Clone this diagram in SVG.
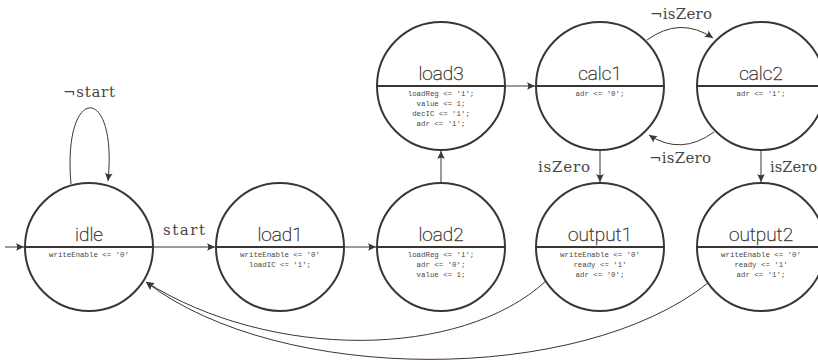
<svg xmlns="http://www.w3.org/2000/svg" width="818" height="360" viewBox="0 0 818 360">
<style>
.st{fill:#fff;stroke:#3b3634;stroke-width:2}
.div{stroke:#3b3634;stroke-width:2}
.nm{font-family:Roboto,"Open Sans","DejaVu Sans",sans-serif;font-weight:100;font-size:19px;fill:#4a4644;stroke:#4a4644;stroke-width:0.45px;text-anchor:middle}
.ac{font-family:"Liberation Mono","DejaVu Sans Mono",monospace;font-size:7.4px;fill:#4a4544;text-anchor:middle}
.cn{fill:none;stroke:#3b3634;stroke-width:1}
.lb{font-family:"DejaVu Serif","Liberation Serif",serif;font-size:15px;fill:#4a4544}
</style>
<defs>
<marker id="ah" viewBox="-9 -5 10 10" refX="0" refY="0" markerWidth="10" markerHeight="10" markerUnits="userSpaceOnUse" orient="auto">
<path d="M0,0 L-8,-3.8 Q-5.5,0 -8,3.8 Z" fill="#3b3634"/>
</marker>
</defs>
<g id="connectors">
<line class="cn" x1="5" y1="247" x2="24" y2="247" marker-end="url(#ah)"/>
<path class="cn" d="M71,184 C62,83 118,83 108,181" marker-end="url(#ah)"/>
<text class="lb" x="63" y="97" textLength="52" lengthAdjust="spacing">¬start</text>
<line class="cn" x1="153" y1="247" x2="215" y2="247" marker-end="url(#ah)"/>
<text class="lb" x="163" y="235" textLength="42" lengthAdjust="spacing">start</text>
<line class="cn" x1="344" y1="247" x2="376" y2="247" marker-end="url(#ah)"/>
<line class="cn" x1="441" y1="183" x2="441" y2="151" marker-end="url(#ah)"/>
<line class="cn" x1="505" y1="86" x2="535" y2="86" marker-end="url(#ah)"/>
<path class="cn" d="M647,40 Q680,16 713,38" marker-end="url(#ah)"/>
<text class="lb" x="650" y="19" textLength="62" lengthAdjust="spacing">¬isZero</text>
<path class="cn" d="M714,132 Q681,156 649,135" marker-end="url(#ah)"/>
<text class="lb" x="649" y="163" textLength="62" lengthAdjust="spacing">¬isZero</text>
<line class="cn" x1="600" y1="150" x2="600" y2="182" marker-end="url(#ah)"/>
<text class="lb" x="538" y="172" textLength="52" lengthAdjust="spacing">isZero</text>
<line class="cn" x1="761" y1="150" x2="761" y2="182" marker-end="url(#ah)"/>
<text class="lb" x="770" y="172" textLength="47" lengthAdjust="spacingAndGlyphs">isZero</text>
<path class="cn" d="M546,281 C460,360 270,360 146,282" marker-end="url(#ah)"/>
<path class="cn" d="M708,283 C580,385 280,385 146,282" marker-end="url(#ah)"/>
</g>
<g id="idle">
<circle class="st" cx="89" cy="247" r="64"/>
<line class="div" x1="25" y1="247" x2="153" y2="247"/>
<text class="nm" x="89" y="241">idle</text>
<text class="ac" x="89" y="257">writeEnable &lt;= '0'</text>
</g>
<g id="load1">
<circle class="st" cx="280" cy="247" r="64"/>
<line class="div" x1="216" y1="247" x2="344" y2="247"/>
<text class="nm" x="280" y="241">load1</text>
<text class="ac" x="280" y="257">writeEnable &lt;= '0'</text>
<text class="ac" x="280" y="267">loadIC &lt;= '1';</text>
</g>
<g id="load2">
<circle class="st" cx="441" cy="247" r="64"/>
<line class="div" x1="377" y1="247" x2="505" y2="247"/>
<text class="nm" x="441" y="241">load2</text>
<text class="ac" x="441" y="257">loadReg &lt;= '1';</text>
<text class="ac" x="441" y="267">adr &lt;= '0';</text>
<text class="ac" x="441" y="277">value &lt;= 1;</text>
</g>
<g id="load3">
<circle class="st" cx="441" cy="86" r="64"/>
<line class="div" x1="377" y1="86" x2="505" y2="86"/>
<text class="nm" x="441" y="80">load3</text>
<text class="ac" x="441" y="96">loadReg &lt;= '1';</text>
<text class="ac" x="441" y="106">value &lt;= 1;</text>
<text class="ac" x="441" y="116">decIC &lt;= '1';</text>
<text class="ac" x="441" y="126">adr &lt;= '1';</text>
</g>
<g id="calc1">
<circle class="st" cx="600" cy="86" r="64"/>
<line class="div" x1="536" y1="86" x2="664" y2="86"/>
<text class="nm" x="600" y="80">calc1</text>
<text class="ac" x="600" y="96">adr &lt;= '0';</text>
</g>
<g id="calc2">
<circle class="st" cx="761" cy="86" r="64"/>
<line class="div" x1="697" y1="86" x2="825" y2="86"/>
<text class="nm" x="761" y="80">calc2</text>
<text class="ac" x="761" y="96">adr &lt;= '1';</text>
</g>
<g id="output1">
<circle class="st" cx="600" cy="247" r="64"/>
<line class="div" x1="536" y1="247" x2="664" y2="247"/>
<text class="nm" x="600" y="241">output1</text>
<text class="ac" x="600" y="257">writeEnable &lt;= '0'</text>
<text class="ac" x="600" y="267">ready &lt;= '1'</text>
<text class="ac" x="600" y="277">adr &lt;= '0';</text>
</g>
<g id="output2">
<circle class="st" cx="761" cy="247" r="64"/>
<line class="div" x1="697" y1="247" x2="825" y2="247"/>
<text class="nm" x="761" y="241">output2</text>
<text class="ac" x="761" y="257">writeEnable &lt;= '0'</text>
<text class="ac" x="761" y="267">ready &lt;= '1'</text>
<text class="ac" x="761" y="277">adr &lt;= '1';</text>
</g>
</svg>
